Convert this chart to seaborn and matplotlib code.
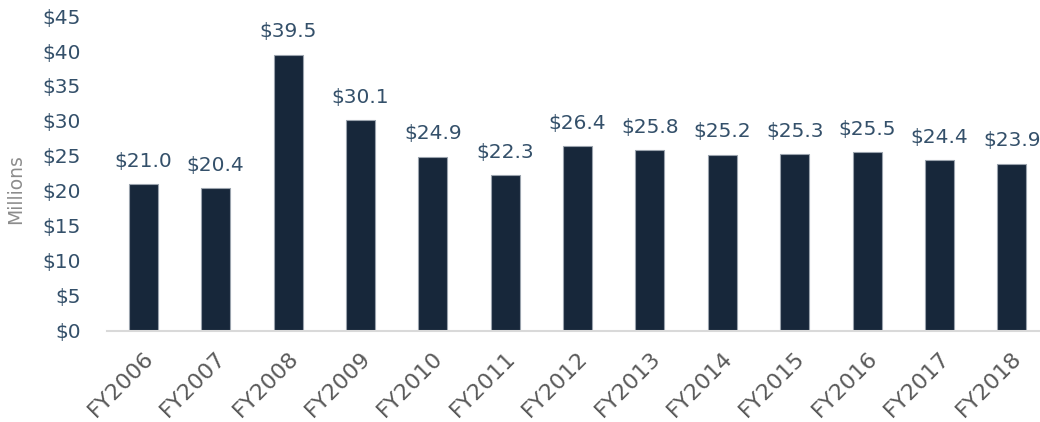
import pandas as pd
import seaborn as sns
import matplotlib
import matplotlib.pyplot as plt
matplotlib.use('Agg')

years = ['FY2006', 'FY2007', 'FY2008', 'FY2009', 'FY2010', 'FY2011', 'FY2012',
         'FY2013', 'FY2014', 'FY2015', 'FY2016', 'FY2017', 'FY2018']
values = [21.0, 20.4, 39.5, 30.1, 24.9, 22.3, 26.4, 25.8, 25.2, 25.3, 25.5, 24.4, 23.9]
yticks = [0, 5, 10, 15, 20, 25, 30, 35, 40, 45]

sns.set_theme(style="white")
plt.rcParams['font.family'] = ['DejaVu Sans']

df = pd.DataFrame({'year': years, 'value': values})

fig = plt.figure(figsize=(10.4, 4.22), dpi=100)
ax = fig.add_axes([0.103, 0.216, 0.897, 0.746])
sns.barplot(data=df, x='year', y='value', color='#17273A', width=0.4,
            edgecolor='#9AA3AD', linewidth=0.8, saturation=1, ax=ax)

label_color = '#34506A'
for i, v in enumerate(values):
    ax.text(i, v + 1.9, f'${v:.1f}', ha='center', va='bottom',
            fontsize=14.5, color=label_color)

ax.set_ylim(0, 45)
ax.set_xlim(-0.5, 12.39)
ax.set_yticks(yticks)
ax.set_yticklabels([f'${t}' for t in yticks], fontsize=14.5, color=label_color)
ax.set_xticks(range(len(years)))
ax.set_xticklabels(years, rotation=45, ha='right', rotation_mode='anchor',
                   fontsize=16, color='#595959')
ax.tick_params(axis='both', length=0)
ax.tick_params(axis='y', pad=19)
ax.tick_params(axis='x', pad=12)
ax.set_xlabel('')
ax.set_ylabel('Millions', fontsize=13.5, color='#8C8C8C')
ax.yaxis.set_label_coords(-0.088, 0.45)

sns.despine(ax=ax, left=True, top=True, right=True, bottom=False)
ax.spines['bottom'].set_color('#D9D9D9')
ax.spines['bottom'].set_linewidth(1.5)

fig.savefig('out.png', dpi=100)
